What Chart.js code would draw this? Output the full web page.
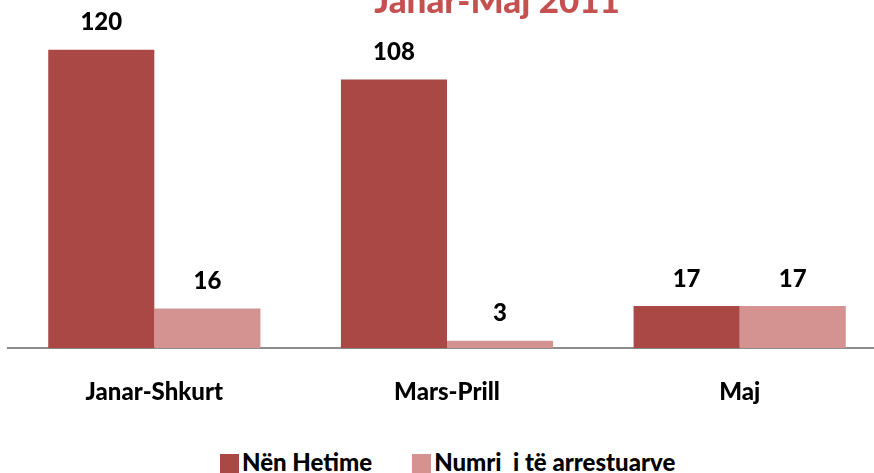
<!DOCTYPE html>
<html>
<head>
<meta charset="utf-8">
<script src="https://cdn.jsdelivr.net/npm/chart.js@4/dist/chart.umd.min.js"></script>
<style>
  html, body { margin: 0; padding: 0; background: #fff; overflow: hidden; }
  #wrap { position: relative; width: 886px; height: 473px; }
  #title {
    position: absolute; top: -15px; left: 0; width: 994px; text-align: center;
    font: 900 35px Lato, sans-serif; line-height: 28px; color: #c4504f;
  }
  #legend {
    position: absolute; top: 449px; left: 220px; white-space: pre;
    font: 900 24px Lato, sans-serif; line-height: 26px; color: #000;
  }
  #legend span.item { display: inline-block; margin-right: 40px; }
  #legend i { display: inline-block; width: 19px; height: 19px; margin-right: 3px; vertical-align: -2px; }
</style>
</head>
<body>
<div id="wrap">
  <canvas id="chart" width="886" height="429"></canvas>
  <div id="title">Janar-Maj 2011</div>
  <div id="legend"></div>
</div>
<script>
const categories = ['Janar-Shkurt', 'Mars-Prill', 'Maj'];
const nenHetime = [120, 108, 17];
const arrestuar = [16, 3, 17];
const seriesNames = ['Nën Hetime', 'Numri  i të arrestuarve'];
const seriesColors = ['#aa4846', '#d49291'];

const valueLabels = {
    id: 'valueLabels',
    afterDatasetsDraw(chart) {
        const ctx = chart.ctx;
        ctx.save();
        ctx.font = '900 24px Lato, sans-serif';
        ctx.fillStyle = '#000';
        ctx.textAlign = 'center';
        ctx.textBaseline = 'middle';
        chart.data.datasets.forEach((ds, i) => {
            chart.getDatasetMeta(i).data.forEach((bar, j) => {
                ctx.fillText(ds.data[j], bar.x, bar.y - 27);
            });
        });
        ctx.restore();
    }
};

function buildLegend() {
    const el = document.getElementById('legend');
    seriesNames.forEach((name, i) => {
        const item = document.createElement('span');
        item.className = 'item';
        const box = document.createElement('i');
        box.style.background = seriesColors[i];
        item.appendChild(box);
        item.appendChild(document.createTextNode(name));
        el.appendChild(item);
    });
}

function draw() {
    buildLegend();
    new Chart(document.getElementById('chart'), {
        type: 'bar',
        data: {
            labels: categories,
            datasets: [{
                label: seriesNames[0],
                data: nenHetime,
                backgroundColor: seriesColors[0],
                barPercentage: 1,
                categoryPercentage: 0.725
            }, {
                label: seriesNames[1],
                data: arrestuar,
                backgroundColor: seriesColors[1],
                barPercentage: 1,
                categoryPercentage: 0.725
            }]
        },
        options: {
            responsive: false,
            animation: false,
            layout: { padding: { left: 8, top: 0, right: 0, bottom: 0 } },
            plugins: {
                legend: { display: false },
                tooltip: { enabled: false }
            },
            scales: {
                y: { display: false, min: 0, max: 140 },
                x: {
                    grid: { display: false },
                    border: { display: true, color: '#8c8c8c', width: 2 },
                    ticks: {
                        color: '#000',
                        padding: 22,
                        font: { family: 'Lato', size: 24, weight: 900 }
                    }
                }
            }
        },
        plugins: [valueLabels]
    });
}

Promise.all([
    document.fonts.load('900 24px Lato'),
    document.fonts.load('900 35px Lato')
]).then(draw, draw);
</script>
</body>
</html>
